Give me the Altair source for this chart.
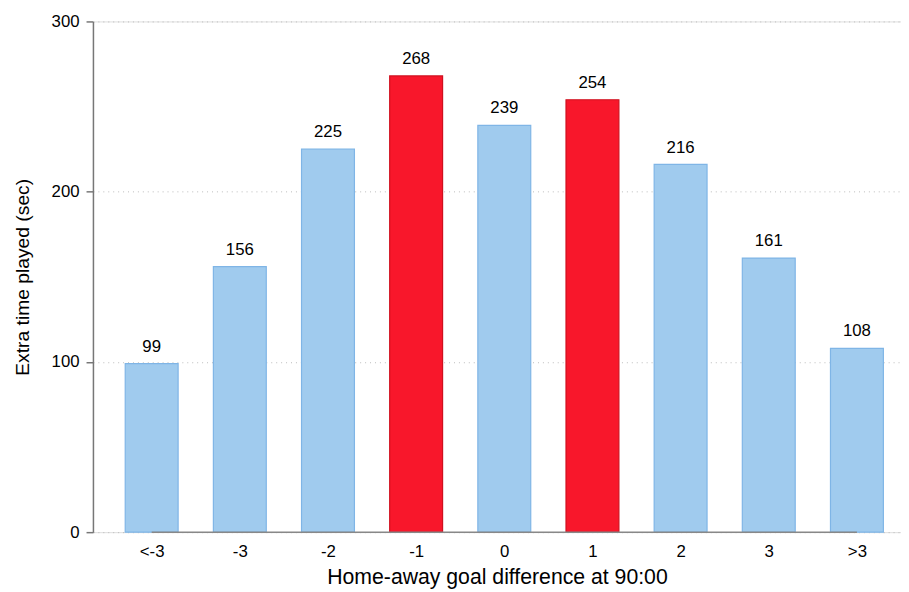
import altair as alt
import pandas as pd

categories = ["<-3", "-3", "-2", "-1", "0", "1", "2", "3", ">3"]
values = [99, 156, 225, 268, 239, 254, 216, 161, 108]
highlight = [False, False, False, True, False, True, False, False, False]

df = pd.DataFrame({
    "idx": list(range(len(categories))),
    "cat": categories,
    "val": values,
    "hl": ["red" if h else "blue" for h in highlight],
})

FONT = "Liberation Sans"
label_expr = "[" + ",".join("'" + c + "'" for c in categories) + "][datum.value]"

xscale = alt.Scale(domain=[-0.666, 8.5], nice=False, zero=False)
yscale = alt.Scale(domain=[0, 300], nice=False)

base = alt.Chart(df)

bars = base.transform_calculate(
    x0="datum.idx - 0.3", x1="datum.idx + 0.3"
).mark_bar(strokeWidth=1.2).encode(
    x=alt.X("x0:Q", scale=xscale,
            axis=alt.Axis(values=list(range(len(categories))), labelExpr=label_expr,
                          ticks=False, domain=False, grid=False,
                          title="Home-away goal difference at 90:00",
                          labelFont=FONT, labelFontSize=17, labelColor="#000",
                          labelPadding=12, titleFont=FONT, titleFontSize=21.5,
                          titleFontWeight="normal", titleColor="#000", titlePadding=7)),
    x2="x1:Q",
    y=alt.Y("val:Q", scale=yscale,
            axis=alt.Axis(values=[0, 100, 200, 300], grid=True, gridDash=[1, 4],
                          gridColor="#bbbbbb", gridWidth=1,
                          domainColor="#777777", domainWidth=1.5,
                          tickColor="#777777", tickWidth=1.5, tickSize=7,
                          labelFont=FONT, labelFontSize=17, labelColor="#000",
                          labelPadding=7,
                          title="Extra time played (sec)", titleFont=FONT,
                          titleFontSize=19.5, titleFontWeight="normal",
                          titleColor="#000", titlePadding=19)),
    y2=alt.datum(0),
    fill=alt.Fill("hl:N", scale=alt.Scale(domain=["blue", "red"],
                                          range=["#A0CBEE", "#F8172B"]), legend=None),
    stroke=alt.Stroke("hl:N", scale=alt.Scale(domain=["blue", "red"],
                                              range=["#7FB5E6", "#D0101F"]), legend=None),
)

axis_line = alt.Chart(pd.DataFrame({"a": [0], "b": [len(categories) - 1], "y": [0]})).mark_rule(
    color="#888888", strokeWidth=1.5
).encode(x=alt.X("a:Q", scale=xscale), x2="b:Q", y=alt.Y("y:Q", scale=yscale))

labels = base.mark_text(baseline="bottom", dy=-8, font=FONT, fontSize=17, color="#000").encode(
    x=alt.X("idx:Q", scale=xscale), y=alt.Y("val:Q", scale=yscale), text="val:Q"
)

chart = alt.layer(bars, axis_line, labels).properties(
    width=818, height=517,
    autosize=alt.AutoSizeParams(type="none"),
    padding={"left": 86, "top": 10, "right": 0, "bottom": 60},
).configure_view(stroke=None).configure(background="white")

chart.save("out.html", embed_options={"renderer": "svg", "actions": False})
